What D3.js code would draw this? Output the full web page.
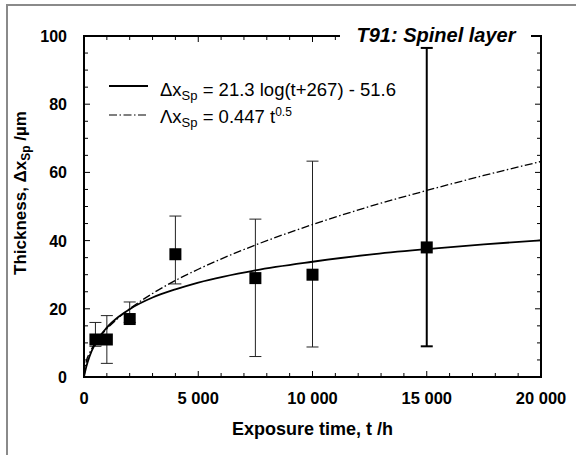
<!DOCTYPE html>
<html>
<head>
<meta charset="utf-8">
<script src="https://cdn.jsdelivr.net/npm/d3@7"></script>
<style>
  body { margin: 0; background: #fff; }
  svg { font-family: "Liberation Sans", Arial, sans-serif; }
</style>
</head>
<body>
<div id="chart"></div>
<script>
// chart size and plot box
const width = 576;
const height = 455;
const margin = {left: 84, right: 35, top: 36, bottom: 78};
const vis_width = width - margin.left - margin.right;
const vis_height = height - margin.top - margin.bottom;

// measured points (exposure time, thickness, error bar low / high)
const times = [500, 1000, 2000, 4000, 7500, 10000, 15000];
const thickness = [11, 11, 17, 36, 29, 30, 38];
const err_low = [9, 4, 16, 27.3, 6, 8.8, 9];
const err_high = [16, 18, 22, 47.2, 46.3, 63.3, 96.5];

// fitted curves
const fit_t = [0, 100, 250, 500, 1000, 1500, 2000, 3000, 4000, 5000, 7500, 10000, 12500, 15000, 17500, 20000];
const fit_log = [0.1, 3.0, 6.2, 9.9, 14.5, 17.6, 19.9, 23.3, 25.7, 27.7, 31.3, 33.8, 35.9, 37.5, 38.9, 40.1];
const fit_sqrt = [0, 4.5, 7.1, 10.0, 14.1, 17.3, 20.0, 24.5, 28.3, 31.6, 38.7, 44.7, 50.0, 54.7, 59.1, 63.2];

// tick labels
const x_ticks = [0, 5000, 10000, 15000, 20000];
const x_tick_labels = ["0", "5 000", "10 000", "15 000", "20 000"];
const y_ticks = [0, 20, 40, 60, 80, 100];

const svg = d3.select("#chart")
  .append("svg")
    .attr("width", width)
    .attr("height", height);

// grey frame round the picture
svg.append("path")
  .attr("d", "M7," + height + "V5H" + width)
  .attr("fill", "none")
  .attr("stroke", "#8a8a8a")
  .attr("stroke-width", 2);

const X = d3.scaleLinear().domain([0, 20000]).range([0, vis_width]);
const Y = d3.scaleLinear().domain([0, 100]).range([vis_height, 0]);

const g = svg.append("g")
  .attr("transform", "translate(" + margin.left + "," + margin.top + ")");

// ticks inside the box on all four sides
const x_minor = d3.range(0, 20001, 1000);
const y_minor = d3.range(0, 101, 5);

function drawTicks(sel, vals, isMajor, pos, horiz, dir) {
  sel.selectAll(null)
    .data(vals)
    .enter().append("line")
      .attr("x1", d => horiz ? X(d) : pos)
      .attr("x2", d => horiz ? X(d) : pos + dir * (isMajor(d) ? 6 : 4))
      .attr("y1", d => horiz ? pos : Y(d))
      .attr("y2", d => horiz ? pos + dir * (isMajor(d) ? 6 : 4) : Y(d))
      .attr("stroke", "#000")
      .attr("stroke-width", 1);
}
const tickG = g.append("g");
drawTicks(tickG, x_minor, d => d % 5000 === 0, vis_height, true, -1);
drawTicks(tickG, x_minor, d => d % 5000 === 0, 0, true, 1);
drawTicks(tickG, y_minor, d => d % 20 === 0, 0, false, 1);
drawTicks(tickG, y_minor, d => d % 20 === 0, vis_width, false, -1);

// error bars
const pts = times.map((t, i) => ({t: t, v: thickness[i], lo: err_low[i], hi: err_high[i]}));
const eb = g.append("g");
pts.forEach(p => {
  const w = p.t === 15000 ? 2 : 1;
  const c = p.t === 15000 ? "#000" : "#222";
  eb.append("line").attr("x1", X(p.t)).attr("x2", X(p.t))
    .attr("y1", Y(p.lo)).attr("y2", Y(p.hi))
    .attr("stroke", c).attr("stroke-width", w);
  [p.lo, p.hi].forEach(e => {
    eb.append("line").attr("x1", X(p.t) - 6).attr("x2", X(p.t) + 6)
      .attr("y1", Y(e)).attr("y2", Y(e))
      .attr("stroke", c).attr("stroke-width", w);
  });
});

// fitted lines
const line = d3.line().x(d => X(d[0])).y(d => Y(d[1])).curve(d3.curveMonotoneX);
g.append("path")
  .datum(fit_t.map((t, i) => [t, fit_sqrt[i]]))
  .attr("d", line)
  .attr("fill", "none").attr("stroke", "#000").attr("stroke-width", 1.3)
  .attr("stroke-dasharray", "8,2.5,1.5,2.5");
g.append("path")
  .datum(fit_t.map((t, i) => [t, fit_log[i]]))
  .attr("d", line)
  .attr("fill", "none").attr("stroke", "#000").attr("stroke-width", 1.8);

// square markers
g.selectAll(".pt")
  .data(pts)
  .enter().append("rect")
    .attr("class", "pt")
    .attr("x", d => X(d.t) - 6)
    .attr("y", d => Y(d.v) - 6)
    .attr("width", 12).attr("height", 12)
    .attr("fill", "#000");

// box
g.append("rect")
  .attr("width", vis_width).attr("height", vis_height)
  .attr("fill", "none").attr("stroke", "#000").attr("stroke-width", 2);

// tick labels
g.selectAll(".xl")
  .data(x_ticks)
  .enter().append("text")
    .attr("x", d => X(d)).attr("y", vis_height + 27)
    .attr("text-anchor", "middle")
    .attr("font-size", 16.5).attr("font-weight", "bold")
    .text((d, i) => x_tick_labels[i]);
g.selectAll(".yl")
  .data(y_ticks)
  .enter().append("text")
    .attr("x", -17).attr("y", d => Y(d) + 6)
    .attr("text-anchor", "end")
    .attr("font-size", 16).attr("font-weight", "bold")
    .text(d => d);

// axis titles
g.append("text")
  .attr("x", vis_width / 2).attr("y", vis_height + 58)
  .attr("text-anchor", "middle")
  .attr("font-size", 18).attr("font-weight", "bold")
  .text("Exposure time, t /h");

const yt = svg.append("text")
  .attr("transform", "translate(26,193) rotate(-90)")
  .attr("text-anchor", "middle")
  .attr("font-size", 17).attr("font-weight", "bold");
yt.append("tspan").text("Thickness, Δx");
yt.append("tspan").attr("font-size", 12).attr("dy", 4).text("Sp");
yt.append("tspan").attr("dy", -4).text(" /µm");

// title sitting on the top line
svg.append("rect")
  .attr("x", 340).attr("y", 26).attr("width", 191).attr("height", 20)
  .attr("fill", "#fff");
svg.append("text")
  .attr("x", 436).attr("y", 42)
  .attr("text-anchor", "middle")
  .attr("font-size", 20).attr("font-weight", "bold").attr("font-style", "italic")
  .text("T91: Spinel layer");

// legend
const leg = svg.append("g");
leg.append("line").attr("x1", 109).attr("x2", 148).attr("y1", 86).attr("y2", 86)
  .attr("stroke", "#000").attr("stroke-width", 1.8);
leg.append("line").attr("x1", 109).attr("x2", 148).attr("y1", 115).attr("y2", 115)
  .attr("stroke", "#000").attr("stroke-width", 1.2).attr("stroke-dasharray", "8,2.5,1.5,2.5");
const l1 = leg.append("text").attr("x", 160).attr("y", 96).attr("font-size", 18.5);
l1.append("tspan").text("Δx");
l1.append("tspan").attr("font-size", 13).attr("dy", 4).text("Sp");
l1.append("tspan").attr("dy", -4).text(" = 21.3 log(t+267) - 51.6");
const l2 = leg.append("text").attr("x", 160).attr("y", 123).attr("font-size", 18.5);
l2.append("tspan").text("Λx");
l2.append("tspan").attr("font-size", 13).attr("dy", 4).text("Sp");
l2.append("tspan").attr("dy", -4).text(" = 0.447 t");
l2.append("tspan").attr("font-size", 12).attr("dy", -7).text("0.5");
</script>
</body>
</html>
